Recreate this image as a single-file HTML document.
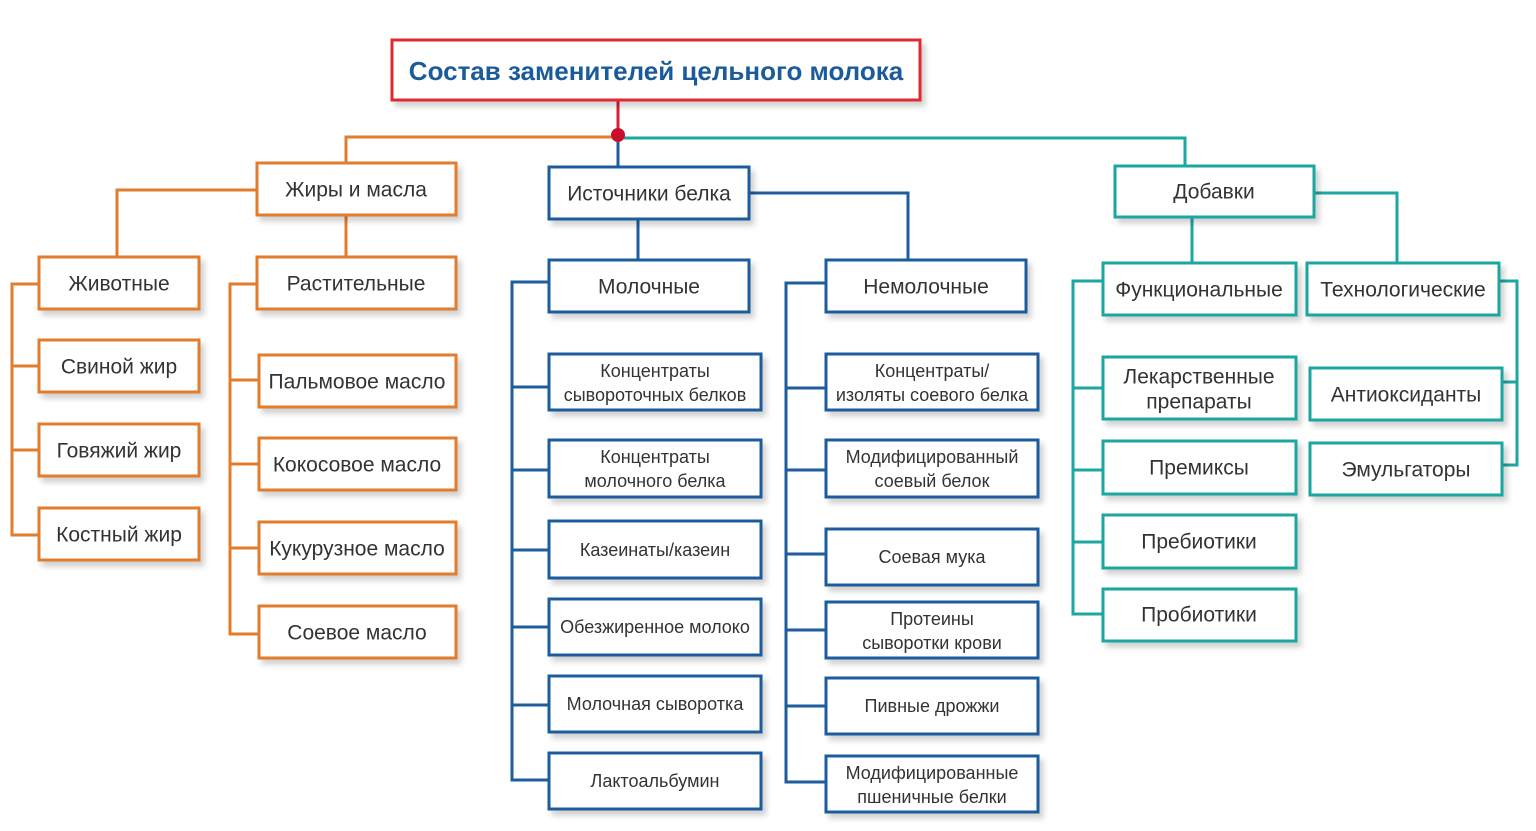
<!DOCTYPE html>
<html><head><meta charset="utf-8"><style>
html,body{margin:0;padding:0;background:#fff;}
svg{display:block;}
text{font-family:"Liberation Sans","DejaVu Sans",sans-serif;fill:#333;text-anchor:middle;dominant-baseline:central;}
</style></head><body>
<svg width="1536" height="831" viewBox="0 0 1536 831" xmlns="http://www.w3.org/2000/svg">
<defs><filter id="sh" x="-10%" y="-10%" width="130%" height="140%"><feDropShadow dx="4" dy="5" stdDeviation="3" flood-color="#000" flood-opacity="0.18"/></filter></defs>
<g fill="none" stroke-width="3">
<line x1="618" y1="100" x2="618" y2="135" stroke="#d71f3a"/>
<g stroke="#e27d2e">
<polyline points="612,137 346,137 346,163"/>
<polyline points="257,190 117,190 117,257"/>
<line x1="346" y1="215" x2="346" y2="257"/>
<polyline points="39,284 12,284 12,535 39,535"/>
<line x1="12" y1="366" x2="39" y2="366"/><line x1="12" y1="450" x2="39" y2="450"/>
<polyline points="257,284 230,284 230,634 259,634"/>
<line x1="230" y1="380" x2="259" y2="380"/><line x1="230" y1="464" x2="259" y2="464"/><line x1="230" y1="548" x2="259" y2="548"/>
</g>
<g stroke="#1ea6a0">
<polyline points="624,138 1185,138 1185,166"/>
<polyline points="1314,193 1397,193 1397,263"/>
<line x1="1192" y1="217" x2="1192" y2="263"/>
<polyline points="1103,281 1073,281 1073,614 1103,614"/>
<line x1="1073" y1="388" x2="1103" y2="388"/><line x1="1073" y1="470" x2="1103" y2="470"/><line x1="1073" y1="542" x2="1103" y2="542"/>
<polyline points="1499,281 1517,281 1517,465 1502,465"/>
<line x1="1502" y1="382" x2="1517" y2="382"/>
</g>
<g stroke="#1f5c9c">
<line x1="618" y1="138" x2="618" y2="167"/>
<polyline points="749,193 908,193 908,260"/>
<line x1="638" y1="219" x2="638" y2="260"/>
<polyline points="549,282 512,282 512,780 549,780"/>
<line x1="512" y1="387" x2="549" y2="387"/><line x1="512" y1="470" x2="549" y2="470"/><line x1="512" y1="550" x2="549" y2="550"/><line x1="512" y1="627" x2="549" y2="627"/><line x1="512" y1="705" x2="549" y2="705"/>
<polyline points="826,283 786,283 786,782 826,782"/>
<line x1="786" y1="388" x2="826" y2="388"/><line x1="786" y1="470" x2="826" y2="470"/><line x1="786" y1="554" x2="826" y2="554"/><line x1="786" y1="630" x2="826" y2="630"/><line x1="786" y1="706" x2="826" y2="706"/>
</g>
</g>
<circle cx="618" cy="135" r="7" fill="#c8102e"/>
<g stroke-width="3" fill="#fff" filter="url(#sh)">
<rect x="392" y="40" width="528" height="60" stroke="#e02a33"/>
<g stroke="#e27d2e">
<rect x="257" y="163" width="199" height="52"/><rect x="257" y="257" width="199" height="52"/>
<rect x="39" y="257" width="160" height="52"/><rect x="39" y="340" width="160" height="52"/><rect x="39" y="424" width="160" height="52"/><rect x="39" y="508" width="160" height="52"/>
<rect x="259" y="355" width="197" height="52"/><rect x="259" y="438" width="197" height="52"/><rect x="259" y="522" width="197" height="52"/><rect x="259" y="606" width="197" height="52"/>
</g>
<g stroke="#1f5c9c">
<rect x="549" y="167" width="200" height="52"/><rect x="549" y="260" width="200" height="52"/><rect x="826" y="260" width="200" height="52"/>
<rect x="549" y="354" width="212" height="56"/><rect x="549" y="440" width="212" height="57"/><rect x="549" y="521" width="212" height="57"/><rect x="549" y="599" width="212" height="56"/><rect x="549" y="676" width="212" height="56"/><rect x="549" y="753" width="212" height="56"/>
<rect x="826" y="354" width="212" height="56"/><rect x="826" y="440" width="212" height="57"/><rect x="826" y="529" width="212" height="56"/><rect x="826" y="602" width="212" height="56"/><rect x="826" y="678" width="212" height="56"/><rect x="826" y="756" width="212" height="56"/>
</g>
<g stroke="#1ea6a0">
<rect x="1115" y="166" width="199" height="51"/><rect x="1103" y="263" width="193" height="52"/><rect x="1307" y="263" width="192" height="52"/>
<rect x="1103" y="357" width="193" height="62"/><rect x="1103" y="441" width="193" height="53"/><rect x="1103" y="515" width="193" height="53"/><rect x="1103" y="589" width="193" height="52"/>
<rect x="1310" y="368" width="192" height="52"/><rect x="1310" y="443" width="192" height="52"/>
</g>
</g>
<text x="656" y="71" style="font-size:26px;font-weight:bold;fill:#1b5b9b">Состав заменителей цельного молока</text>
<g style="font-size:21px">
<text x="356" y="190">Жиры и масла</text><text x="356" y="284">Растительные</text>
<text x="119" y="284">Животные</text><text x="119" y="367">Свиной жир</text><text x="119" y="451">Говяжий жир</text><text x="119" y="535">Костный жир</text>
<text x="357" y="382">Пальмовое масло</text><text x="357" y="465">Кокосовое масло</text><text x="357" y="549">Кукурузное масло</text><text x="357" y="633">Соевое масло</text>
<text x="649" y="194">Источники белка</text><text x="649" y="287">Молочные</text><text x="926" y="287">Немолочные</text>
<text x="1214" y="192">Добавки</text><text x="1199" y="290">Функциональные</text><text x="1403" y="290">Технологические</text>
<text x="1199" y="377">Лекарственные</text><text x="1199" y="402">препараты</text>
<text x="1199" y="468">Премиксы</text><text x="1199" y="542">Пребиотики</text><text x="1199" y="615">Пробиотики</text>
<text x="1406" y="395">Антиоксиданты</text><text x="1406" y="470">Эмульгаторы</text>
</g>
<g style="font-size:18px">
<text x="655" y="371">Концентраты</text><text x="655" y="395">сывороточных белков</text>
<text x="655" y="457">Концентраты</text><text x="655" y="481">молочного белка</text>
<text x="655" y="550">Казеинаты/казеин</text><text x="655" y="627">Обезжиренное молоко</text>
<text x="655" y="704">Молочная сыворотка</text><text x="655" y="781">Лактоальбумин</text>
<text x="932" y="371">Концентраты/</text><text x="932" y="395">изоляты соевого белка</text>
<text x="932" y="457">Модифицированный</text><text x="932" y="481">соевый белок</text>
<text x="932" y="557">Соевая мука</text>
<text x="932" y="619">Протеины</text><text x="932" y="643">сыворотки крови</text>
<text x="932" y="706">Пивные дрожжи</text>
<text x="932" y="773">Модифицированные</text><text x="932" y="797">пшеничные белки</text>
</g>
</svg>
</body></html>
